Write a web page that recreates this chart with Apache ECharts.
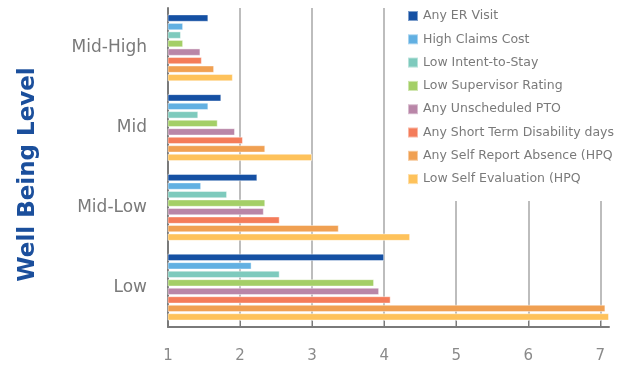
<!DOCTYPE html>
<html>
<head>
<meta charset="utf-8">
<script src="https://cdn.jsdelivr.net/npm/echarts@6/dist/echarts.min.js"></script>
<style>
  html, body { margin: 0; padding: 0; background: #fff; }
  #chart { width: 618px; height: 368px; }
</style>
</head>
<body>
<div id="chart"></div>
<script>
// Well-being levels, bottom to top
const levels = ['Low', 'Mid-Low', 'Mid', 'Mid-High'];

// Outcome series (values per level, same order as levels)
const seriesNames = [
  'Any ER Visit',
  'High Claims Cost',
  'Low Intent-to-Stay',
  'Low Supervisor Rating',
  'Any Unscheduled PTO',
  'Any Short Term Disability days',
  'Any Self Report Absence (HPQ',
  'Low Self Evaluation (HPQ'
];
const anyErVisit        = [4.00, 2.24, 1.74, 1.56];
const highClaimsCost    = [2.16, 1.46, 1.56, 1.21];
const lowIntentToStay   = [2.55, 1.82, 1.42, 1.18];
const lowSupervisor     = [3.86, 2.35, 1.69, 1.21];
const unscheduledPto    = [3.93, 2.33, 1.93, 1.45];
const shortTermDisab    = [4.09, 2.55, 2.04, 1.47];
const selfReportAbsence = [7.07, 3.37, 2.35, 1.64];
const lowSelfEvaluation = [7.12, 4.36, 3.00, 1.90];

const xTicks = [1, 2, 3, 4, 5, 6, 7];

const palette = ['#1550a3', '#62b0e2', '#7ecabd', '#a4cf67', '#b986a8', '#f47c5a', '#f0a052', '#fec25b'];
const values = [anyErVisit, highClaimsCost, lowIntentToStay, lowSupervisor,
                unscheduledPto, shortTermDisab, selfReportAbsence, lowSelfEvaluation];

const series = seriesNames.map((name, i) => ({
  name: name,
  type: 'bar',
  data: values[i],
  barCategoryGap: '16%',
  barGap: '15%',
  itemStyle: { color: palette[i], borderColor: 'rgba(255,255,255,0.45)', borderWidth: 1 },
  z: 3
}));

const chart = echarts.init(document.getElementById('chart'), null, { renderer: 'canvas' });
chart.setOption({
  animation: false,
  backgroundColor: '#fff',
  grid: { left: 168, right: 9, top: 8, bottom: 41, containLabel: false },
  legend: {
    data: seriesNames,
    orient: 'vertical',
    left: 398,
    top: 0,
    padding: [9, 20, 15, 9],
    backgroundColor: '#fff',
    icon: 'rect',
    itemWidth: 10,
    itemHeight: 10,
    itemGap: 9.3,
    textStyle: { fontFamily: 'DejaVu Sans', fontSize: 12.5, color: '#7a7a7a', lineHeight: 14 },
    z: 10
  },
  xAxis: {
    type: 'value',
    min: xTicks[0],
    max: 7.12,
    interval: 1,
    axisLine: { show: true, lineStyle: { color: '#7a7a7a', width: 2 } },
    axisTick: { show: true, inside: true, length: 6, lineStyle: { color: '#7a7a7a', width: 1 } },
    axisLabel: { fontFamily: 'DejaVu Sans', fontSize: 15, color: '#8a8a8a', margin: 22,
                 showMaxLabel: false,
                 formatter: v => xTicks.indexOf(v) >= 0 ? String(v) : '' },
    splitLine: { show: true, showMaxLine: false, lineStyle: { color: '#bdbdbd', width: 2 } }
  },
  yAxis: {
    type: 'category',
    data: levels,
    name: 'Well Being Level',
    nameLocation: 'middle',
    nameGap: 128,
    nameTextStyle: { fontFamily: 'DejaVu Sans', fontWeight: 'bold', fontSize: 23, color: '#1b4f9c',
                     padding: [0, 14, 0, 0] },
    axisLine: { show: true, lineStyle: { color: '#7a7a7a', width: 2 } },
    axisTick: { show: false },
    axisLabel: { fontFamily: 'DejaVu Sans', fontSize: 17, color: '#7a7a7a', margin: 21 },
    splitLine: { show: false }
  },
  series: series
});
</script>
</body>
</html>
